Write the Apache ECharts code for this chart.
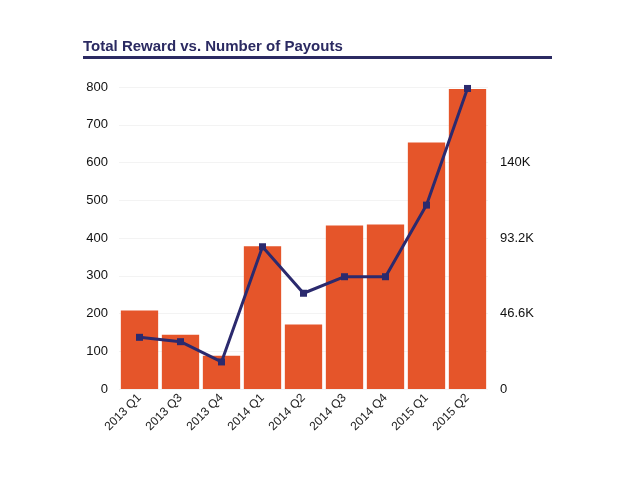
<!DOCTYPE html>
<html><head><meta charset="utf-8">
<script src="https://cdn.jsdelivr.net/npm/echarts@6/dist/echarts.min.js"></script>
<style>html,body{margin:0;padding:0;background:#fff}#c{width:640px;height:480px}</style>
</head><body><div id="c"></div>
<script>
var categories = ['2013 Q1','2013 Q3','2013 Q4','2014 Q1','2014 Q2','2014 Q3','2014 Q4','2015 Q1','2015 Q2'];
var totalReward = [208, 144, 88, 378, 171, 433, 436, 653, 795];
var payouts = [31900, 29200, 16700, 87800, 59100, 69300, 69300, 113500, 185500];
var leftTicks = [0, 100, 200, 300, 400, 500, 600, 700, 800];
var rightTickLabels = {0:'0', 46600:'46.6K', 93200:'93.2K', 139800:'140K'};

var chart = echarts.init(document.getElementById('c'));
chart.setOption({
  animation:false,
  backgroundColor:'#fff',
  title:{text:'Total Reward vs. Number of Payouts', left:78, top:34,
    textStyle:{fontFamily:'Liberation Sans', fontWeight:'bold', fontSize:15, color:'#2b2a62'}},
  graphic:[{type:'rect', shape:{x:83,y:56,width:469,height:3}, style:{fill:'#2b2a62'}}],
  grid:{left:119, right:152, top:87, bottom:91},
  xAxis:{type:'category', data:categories,
    axisLine:{show:false}, axisTick:{show:false},
    axisLabel:{rotate:45, fontFamily:'Liberation Sans', fontSize:12, color:'#222', margin:7, interval:0}},
  yAxis:[
    {type:'value', min:0, max:800, interval:100,
     axisLine:{show:false}, axisTick:{show:false},
     splitLine:{lineStyle:{color:'#f3f3f3'}},
     axisLabel:{fontFamily:'Liberation Sans', fontSize:13, color:'#111', margin:11}},
    {type:'value', min:0, max:186400, interval:46600,
     axisLine:{show:false}, axisTick:{show:false}, splitLine:{show:false},
     axisLabel:{fontFamily:'Liberation Sans', fontSize:13, color:'#111', margin:12,
       formatter:function(v){ return rightTickLabels.hasOwnProperty(v) ? rightTickLabels[v] : ''; }}}
  ],
  series:[
    {type:'bar', data:totalReward, yAxisIndex:0, barCategoryGap:'9%',
     itemStyle:{color:'#e5552a'}},
    {type:'line', data:payouts, yAxisIndex:1, symbol:'rect', symbolSize:7,
     lineStyle:{color:'#2b2a6e', width:3}, itemStyle:{color:'#2b2a6e'}}
  ]
});
</script></body></html>
